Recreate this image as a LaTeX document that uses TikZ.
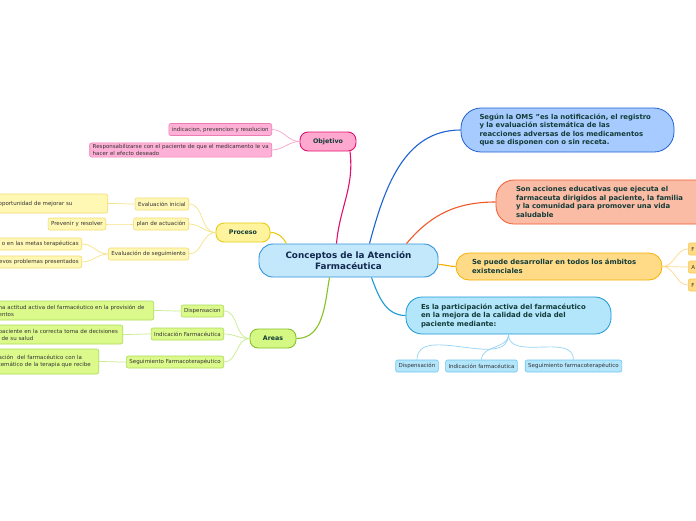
\documentclass[tikz,border=0pt]{standalone}
\usepackage{fontspec}
\setmainfont{DejaVu Sans}
\usepackage{tikz}
\usetikzlibrary{positioning}

\definecolor{rootFill}{HTML}{C4E8FB}
\definecolor{rootDraw}{HTML}{3393D8}
\definecolor{rootText}{HTML}{10284E}
\definecolor{topicText}{HTML}{123B37}
\definecolor{leafText}{HTML}{333333}
\definecolor{objFill}{HTML}{FFA8CF}
\definecolor{objDraw}{HTML}{E3106F}
\definecolor{objLeafFill}{HTML}{FFB0D6}
\definecolor{objLeafDraw}{HTML}{EE7CB4}
\definecolor{objLeafLine}{HTML}{F7A3CA}
\definecolor{proFill}{HTML}{FFF39E}
\definecolor{proDraw}{HTML}{E8CB10}
\definecolor{proLeafFill}{HTML}{FFF7B4}
\definecolor{proLeafDraw}{HTML}{F2DC70}
\definecolor{proLeafLine}{HTML}{F6E384}
\definecolor{areFill}{HTML}{D5F885}
\definecolor{areDraw}{HTML}{86C226}
\definecolor{areLeafFill}{HTML}{DCFA8C}
\definecolor{areLeafDraw}{HTML}{ABDC58}
\definecolor{areLeafLine}{HTML}{C9EC8E}
\definecolor{omsFill}{HTML}{A8CBFF}
\definecolor{omsDraw}{HTML}{1F62D4}
\definecolor{sonFill}{HTML}{FBBCA6}
\definecolor{sonDraw}{HTML}{F05A2A}
\definecolor{seFill}{HTML}{FFDB88}
\definecolor{seDraw}{HTML}{F5B000}
\definecolor{seLeafDraw}{HTML}{F5C84C}
\definecolor{seLeafLine}{HTML}{FFD98C}
\definecolor{esFill}{HTML}{B3E5FB}
\definecolor{esDraw}{HTML}{1A9AD8}
\definecolor{esLeafDraw}{HTML}{70C6EE}
\definecolor{esLeafLine}{HTML}{92D3F4}

\tikzstyle{central} = [
  rectangle, draw=rootDraw, fill=rootFill, line width=0.9pt,
  rounded corners=14pt, minimum width=179pt, minimum height=33pt,
  align=center, text=rootText, font=\fontsize{8.8}{10.5}\selectfont\bfseries
]
\tikzstyle{topic} = [
  rectangle, line width=0.9pt, rounded corners=8pt,
  minimum height=19pt, text=topicText,
  font=\fontsize{6.3}{7.5}\selectfont\bfseries
]
\tikzstyle{note} = [
  rectangle, line width=0.8pt, align=left, text=topicText,
  font=\fontsize{6.9}{8.5}\selectfont\bfseries
]
\tikzstyle{leaf} = [
  rectangle, line width=0.6pt, rounded corners=2pt,
  minimum height=12pt, inner xsep=3pt, inner ysep=1.5pt,
  text=leafText, font=\fontsize{5.5}{7}\selectfont
]
\tikzstyle{branch} = [line width=1.1pt]
\tikzstyle{twig} = [line width=0.7pt]

\begin{document}
\begin{tikzpicture}[x=1pt, y=-1pt]

  \useasboundingbox (0,0) rectangle (696,520);
  \fill[white] (0,0) rectangle (696,520);
  \clip (0,0) rectangle (696,520);

  % Central topic
  \node[central] (root) at (348.5,260.5) {Conceptos de la Atención\\Farmacéutica};

  % Objetivo
  \node[topic, draw=objDraw, fill=objFill, minimum width=56pt] (objetivo) at (328,141.5) {Objetivo};
  \node[leaf, draw=objLeafDraw, fill=objLeafFill, anchor=east] (obj1) at (272,129.5)
    {indicacion, prevencion y resolucion};
  \node[leaf, draw=objLeafDraw, fill=objLeafFill, anchor=east, text width=176pt, align=left] (obj2) at (272,150)
    {Responsabilizarse con el paciente de que el medicamento le va\\hacer el efecto deseado};

  % Proceso
  \node[topic, draw=proDraw, fill=proFill, minimum width=54pt] (proceso) at (243,232.5) {Proceso};
  \node[leaf, draw=proLeafDraw, fill=proLeafFill, anchor=east] (pro1) at (189,204) {Evaluación inicial};
  \node[leaf, draw=proLeafDraw, fill=proLeafFill, anchor=east] (pro2) at (189,224) {plan de actuación};
  \node[leaf, draw=proLeafDraw, fill=proLeafFill, anchor=east] (pro3) at (189,254) {Evaluación de seguimiento};
  \node[leaf, draw=proLeafDraw, fill=proLeafFill, anchor=east, text width=106pt, align=left,
        minimum height=19pt] (pro11) at (108,203.5) {oportunidad de mejorar su};
  \node[leaf, draw=proLeafDraw, fill=proLeafFill, anchor=east] (pro21) at (106,224) {Prevenir y resolver};
  \node[leaf, draw=proLeafDraw, fill=proLeafFill, anchor=east, text width=90pt, align=right] (pro31) at (82,244)
    {o en las metas terapéuticas};
  \node[leaf, draw=proLeafDraw, fill=proLeafFill, anchor=east, text width=90pt, align=right] (pro32) at (82,262)
    {evos problemas presentados};

  % Areas
  \node[topic, draw=areDraw, fill=areFill, minimum width=46pt] (areas) at (273,338.5) {Areas};
  \node[leaf, draw=areLeafDraw, fill=areLeafFill, anchor=east] (are1) at (224,311) {Dispensacion};
  \node[leaf, draw=areLeafDraw, fill=areLeafFill, anchor=east] (are2) at (224,334) {Indicación Farmacéutica};
  \node[leaf, draw=areLeafDraw, fill=areLeafFill, anchor=east] (are3) at (224,362) {Seguimiento Farmacoterapéutico};
  \node[leaf, draw=areLeafDraw, fill=areLeafFill, anchor=east, text width=152pt, align=left,
        minimum height=19pt] (are11) at (154,310.5)
    {na actitud activa del farmacéutico en la provisión de\\entos};
  \node[leaf, draw=areLeafDraw, fill=areLeafFill, anchor=east, text width=121pt, align=left,
        minimum height=19pt] (are21) at (123,334.5)
    {paciente en la correcta toma de decisiones\\\hspace*{3pt}de su salud};
  \node[leaf, draw=areLeafDraw, fill=areLeafFill, anchor=east, text width=97pt, align=left,
        minimum height=25pt] (are31) at (99,361.5)
    {ación~ del farmacéutico con la\\temático de la terapia que recibe};

  % Right side notes
  \node[note, draw=omsDraw, fill=omsFill, rounded corners=20pt, minimum width=213pt,
        minimum height=44pt, text width=176pt] (oms) at (567.5,130)
    {Según la OMS "es la notificación, el registro\\y la evaluación sistemática de las\\reacciones adversas de los medicamentos\\que se disponen con o sin receta.};
  \node[note, draw=sonDraw, fill=sonFill, rounded corners=18pt, minimum width=220pt,
        minimum height=44pt, text width=180pt] (son) at (606,202)
    {Son acciones educativas que ejecuta el\\farmaceuta dirigidos al paciente, la familia\\y la comunidad para promover una vida\\saludable};
  \node[note, draw=seDraw, fill=seFill, rounded corners=13pt, minimum width=206pt,
        minimum height=27pt, text width=174pt] (se) at (559,266.5)
    {Se puede desarrollar en todos los ámbitos\\existenciales};
  \node[note, draw=esDraw, fill=esFill, rounded corners=16pt, minimum width=205pt,
        minimum height=37pt, text width=175pt] (es) at (508.5,315.5)
    {Es la participación activa del farmacéutico\\en la mejora de la calidad de vida del\\paciente mediante:};

  \node[leaf, draw=seLeafDraw, fill=seFill, anchor=west, text width=24pt, align=left] (se1) at (688,249) {F};
  \node[leaf, draw=seLeafDraw, fill=seFill, anchor=west, text width=24pt, align=left] (se2) at (688,267) {A};
  \node[leaf, draw=seLeafDraw, fill=seFill, anchor=west, text width=24pt, align=left] (se3) at (688,285) {F};

  \node[leaf, draw=esLeafDraw, fill=esFill] (es1) at (417,366) {Dispensación};
  \node[leaf, draw=esLeafDraw, fill=esFill] (es2) at (481.5,366) {Indicación farmacéutica};
  \node[leaf, draw=esLeafDraw, fill=esFill] (es3) at (573.5,366) {Seguimiento farmacoterapéutico};

  % Main branches
  \draw[branch, objDraw] ([xshift=-12pt]root.north) to[out=85,in=-83] ([xshift=22pt]objetivo.south);
  \draw[branch, proDraw] (proceso.east) to[out=0,in=120] ([xshift=-62pt]root.north);
  \draw[branch, areDraw] (areas.east) to[out=0,in=-100] ([xshift=-19pt]root.south);
  \draw[branch, omsDraw] ([xshift=21pt]root.north) to[out=75,in=180] (oms.west);
  \draw[branch, sonDraw] ([xshift=58pt]root.north) to[out=50,in=180] (son.west);
  \draw[branch, seDraw] ([yshift=-4pt]root.east) to[out=0,in=180] (se.west);
  \draw[branch, esDraw] ([xshift=23pt]root.south) to[out=-70,in=180] (es.west);

  % Sub branches
  \foreach \i in {1,2}
    \draw[twig, objLeafLine] (objetivo.west) to[out=180,in=0] (obj\i.east);
  \foreach \i in {1,2,3}
    \draw[twig, proLeafLine] (proceso.west) to[out=180,in=0] (pro\i.east);
  \draw[twig, proLeafLine] (pro1.west) to[out=180,in=0] (pro11.east);
  \draw[twig, proLeafLine] (pro2.west) to[out=180,in=0] (pro21.east);
  \draw[twig, proLeafLine] (pro3.west) to[out=180,in=0] (pro31.east);
  \draw[twig, proLeafLine] (pro3.west) to[out=180,in=0] (pro32.east);
  \foreach \i in {1,2,3}
    \draw[twig, areLeafLine] (areas.west) to[out=180,in=0] (are\i.east);
  \foreach \i in {1,2,3}
    \draw[twig, areLeafLine] (are\i.west) to[out=180,in=0] (are\i1.east);
  \foreach \i in {1,2,3}
    \draw[twig, seLeafLine] (se.east) to[out=0,in=180] (se\i.west);
  \foreach \i in {1,2,3}
    \draw[twig, esLeafLine] (es.south) to[out=-90,in=90] (es\i.north);

\end{tikzpicture}
\end{document}
